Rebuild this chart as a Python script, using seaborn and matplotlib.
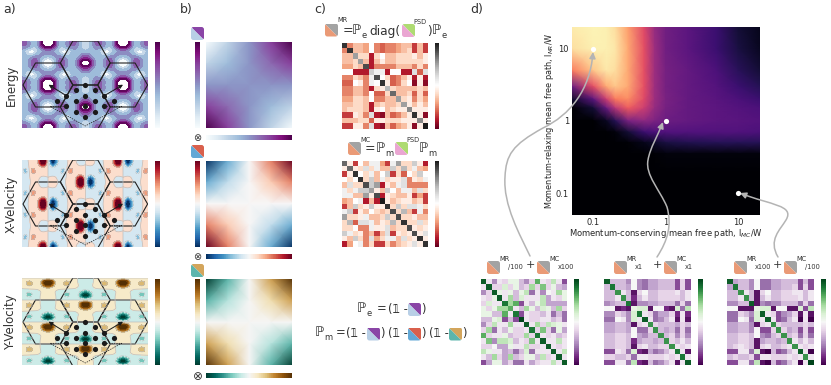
import numpy as np
import matplotlib
matplotlib.use('Agg')
import matplotlib.pyplot as plt
from matplotlib.patches import FancyBboxPatch, Polygon, FancyArrowPatch
from matplotlib.path import Path
import seaborn as sns

W, H = 831, 385

# quarter cells of the three band maps (rows = y, cols = x)
energy_cell = [
    [1.3, 1.2, .95, .5, .3, .32, .5, .6, .8, .6, .45, .3, .1],
    [1.2, 1.15, .9, .5, .3, .33, .5, .6, .7, .55, .42, .28, .1],
    [.95, .9, .7, .42, .3, .35, .5, .55, .55, .5, .4, .3, .2],
    [.5, .45, .35, .3, .15, .08, .05, .15, .4, .42, .33, .3, .3],
    [.55, .55, .5, .42, .25, .1, .08, .3, .4, .33, .33, .45, .5],
    [.3, .35, .45, .5, .55, .45, .35, .42, .45, .33, .45, .6, .7],
    [.08, .1, .3, .5, .7, .6, .5, .4, .33, .45, .55, .9, .95],
    [.02, .05, .2, .5, .8, .65, .5, .32, .3, .5, .85, 1.15, 1.3],
]
xvel_cell = [
    [0, -.98, -.98, -.3, -.1, -.08, -.06, .06, .12, .08, -.5, -.1, 0],
    [0, -.98, -.98, -.28, -.1, -.1, -.05, .1, .15, .1, -.3, -.08, 0],
    [0, -.3, -.3, -.15, -.1, -.2, -.03, .15, .2, .12, .08, .05, 0],
    [0, -.1, -.1, -.1, -.2, -.5, -.05, .5, .25, .15, .1, .08, 0],
    [0, -.08, -.1, -.15, -.25, -.5, .05, .5, .2, .1, .1, .1, 0],
    [0, -.05, -.08, -.12, -.2, -.15, .03, .2, .1, .15, .3, .3, 0],
    [0, .08, .3, -.1, -.15, -.1, .05, .1, .1, .28, .98, .98, 0],
    [0, .1, .5, -.08, -.12, -.06, .06, .08, .1, .3, .98, .98, 0],
]
yvel_cell = [
    [0] * 13,
    [.98, .9, .35, .12, .1, .25, .4, .25, .1, .05, -.05, -.3, -.45],
    [.98, .85, .32, .12, .1, .3, .45, .3, .12, .05, -.02, -.1, -.2],
    [.28, .22, .15, .1, .12, .18, .2, .15, .1, .05, 0, -.05, -.1],
    [.1, .05, 0, -.05, -.1, -.15, -.2, -.18, -.12, -.1, -.15, -.22, -.28],
    [.2, .1, .02, -.05, -.12, -.3, -.45, -.3, -.1, -.12, -.32, -.85, -.98],
    [.45, .3, .05, -.05, -.1, -.25, -.4, -.25, -.1, -.12, -.35, -.9, -.98],
    [0] * 13,
]

# k points and hexagon centres in the maps
dots_x = [63, 53.7, 72.7, 44, 63, 82, 53.7, 72.7, 34.7, 91.3, 44, 63, 82, 53.7, 72.7, 63]
dots_y = [44, 49.3, 49.3, 54.7, 54.7, 54.7, 60, 60, 60, 60, 65.3, 65.3, 65.3, 70.7, 70.7, 76]
hex_x = [25.7, 63, 100.3, 63]
hex_y = [44, 22, 44, 66]

# corners of the 2d colour squares of panel b
square_vals = [[-1, -.5, 0, .5, 1],
               [-.5, -.25, 0, .25, .5],
               [0, 0, 0, 0, 0],
               [.5, .25, 0, -.25, -.5],
               [1, .5, 0, -.5, -1]]

# matrices, upper triangles in tenths
mr_tri = [
    [9, -5, -3, -3, -4, 0, -5, -6, -5, -5, -4, -3, -3, -7, -3, -7],
    [9, -3, -3, -4, 0, -5, -6, -5, -5, -4, -3, -2, -7, -3, -7],
    [5, -2, -2, -8, -2, 0, -3, -3, -2, -2, -2, -1, -3, -1],
    [5, -3, -8, -3, -1, -3, -3, -2, -2, -2, -2, -2, -1],
    [8, -8, -5, -5, -5, -5, -3, -3, -3, -5, -2, -5],
    [3, 1, 1, -8, 0, 0, -8, -8, 2, -6, 2],
    [8, 0, -2, -6, -5, -3, -1, -8, -1, -8],
    [9, -1, -6, -5, -2, 0, -9, -1, -9],
    [4, -2, -3, -3, -3, -3, -2, -3],
    [7, -3, -3, -2, -6, -2, -6],
    [5, -2, -1, -5, -2, -4],
    [5, -1, -3, -1, -3],
    [6, -1, -1, -1],
    [9, -1, -9],
    [6, -1],
    [10],
]
mc_tri = [
    [7, -1, -7, 0, -3, 1, 1, -4, -7, 1, 5, -2, -2, 3, -1, -8],
    [7, -1, -2, 2, -2, 1, -3, -3, 3, -2, 4, -2, 1, -3, -4],
    [9, 0, -2, 1, -3, 0, 3, -7, -2, -6, 0, -2, 3, 0],
    [9, -2, 3, -3, 1, -2, -1, -1, 2, -5, -1, -2, 1],
    [8, 3, 5, -8, -1, -3, 1, 2, -5, -5, -5, -5],
    [5, -1, -3, 3, 0, -3, 1, 1, -3, 2, -2],
    [8, -8, -1, -2, -3, -3, -1, -7, -4, -7],
    [10, -1, -3, -2, -1, -1, -3, -2, -7],
    [9, -2, 3, -2, 2, 2, 1, -2],
    [8, -2, 4, -3, -7, 1, -5],
    [8, -2, -2, -1, -3, -3],
    [9, -2, -2, 2, -2],
    [8, -1, -2, -1],
    [8, -1, 2],
    [9, -1],
    [9],
]
left_tri = [
    [9, -1, -5, -1, -2, 1, 1, -3, -5, -2, 6, -1, -2, 3, -1, -7],
    [9, -2, -2, 2, -2, 1, -3, -2, 4, -2, 5, -2, 1, -3, -4],
    [9, 1, -1, 1, -3, 1, 3, -6, -1, -5, 0, -1, 4, 1],
    [9, -1, 4, -3, 2, -1, -1, -1, 3, -4, -1, -2, 1],
    [8, 4, 6, -7, -1, -3, 1, 3, -4, -4, -4, -4],
    [6, -1, -3, 4, 1, -3, 2, 1, -3, 4, -2],
    [8, -7, -1, -2, -2, -3, -1, -6, -3, -6],
    [10, -1, -2, -2, -1, -1, -3, -2, -6],
    [9, -1, 4, -2, 3, 2, 1, -1],
    [8, -2, 5, -2, -6, 1, -4],
    [8, -1, -2, -1, -3, -2],
    [9, -1, -1, 3, -1],
    [9, -1, -2, -1],
    [9, -1, 3],
    [9, -1],
    [9],
]
mid_tri = [
    [9, -3, -3, -3, -5, 0, -5, -6, -4, -4, -3, -3, -3, -7, -2, -7],
    [8, -3, -3, -4, 0, -5, -6, -4, -4, -3, -3, -3, -7, -2, -7],
    [7, -1, -3, -9, -2, 0, -3, -3, -2, -2, -2, -1, -3, -1],
    [7, -3, -8, -3, -1, -3, -3, -2, -2, -2, -2, -3, -1],
    [8, -9, -5, -5, -4, -4, -3, -3, -3, -6, -2, -6],
    [1, 2, 2, -9, 0, 0, -8, -9, 2, -6, 3],
    [8, -1, -2, -6, -4, -4, -2, -8, -1, -8],
    [9, -1, -6, -5, -3, -1, -9, -1, -9],
    [7, -2, -3, -3, -3, -4, -2, -3],
    [7, -3, -4, -3, -6, -2, -6],
    [7, -3, -2, -5, -2, -5],
    [7, -2, -3, -1, -3],
    [7, -1, -2, -1],
    [8, -1, -9],
    [8, -1],
    [9],
]
right_tri = [
    [9, -4, -3, -3, -5, 0, -6, -6, -4, -4, -3, -3, -3, -7, -3, -7],
    [8, -3, -3, -5, 0, -6, -6, -4, -4, -3, -3, -2, -7, -2, -7],
    [7, -1, -3, -9, -2, 0, -3, -3, -2, -2, -1, -1, -3, -1],
    [7, -3, -9, -3, -1, -3, -3, -2, -2, -2, -1, -3, -1],
    [9, -9, -5, -6, -5, -5, -3, -3, -3, -6, -2, -6],
    [1, 2, 2, -9, 0, 0, -9, -9, 2, -7, 3],
    [9, -1, -2, -7, -5, -4, -2, -9, -1, -9],
    [9, -1, -7, -6, -3, -1, -10, -1, -10],
    [7, -2, -3, -3, -3, -3, -2, -3],
    [7, -2, -4, -3, -7, -2, -7],
    [7, -3, -2, -6, -2, -6],
    [7, -1, -3, -1, -3],
    [7, -1, -2, -1],
    [9, -1, -10],
    [7, -1],
    [10],
]

# free path map: magma level on a log grid
path_x = [.05, .1, .15, .2, .3, .5, .7, 1, 2, 5, 10, 20]
path_y = [20, 10, 5, 3, 2, 1.5, 1, .7, .5, .35, .2, .05]
path_map = [
    [.96, .98, .97, .93, .8, .6, .42, .33, .28, .2, .1, .05],
    [.93, .97, .97, .95, .82, .62, .44, .33, .28, .2, .12, .06],
    [.72, .88, .95, .93, .82, .62, .44, .34, .3, .24, .16, .1],
    [.32, .62, .82, .88, .82, .62, .44, .34, .3, .26, .2, .15],
    [.08, .28, .55, .72, .76, .6, .44, .35, .3, .27, .24, .2],
    [0, .1, .3, .5, .65, .55, .42, .34, .3, .28, .26, .24],
    [0, 0, .06, .15, .35, .4, .36, .32, .3, .28, .27, .26],
    [0, 0, 0, .02, .1, .2, .24, .25, .25, .25, .25, .24],
    [0, 0, 0, 0, .01, .05, .08, .12, .14, .15, .15, .15],
    [0, 0, 0, 0, 0, 0, .01, .02, .02, .02, .02, .02],
    [0] * 12,
    [0] * 12,
]
marker_x = [.1, 1, 10]
marker_y = [10, 1, .1]

sns.set_theme(style='ticks')
plt.rcParams['font.family'] = ['DejaVu Sans']
fig = plt.figure(figsize=(W / 100, H / 100), dpi=100)


def box(x0, y0, x1, y1):
    return fig.add_axes([x0 / W, 1 - y1 / H, (x1 - x0) / W, (y1 - y0) / H])


def unfold(cell, sx, sy, zoom=5, sigma=.65):
    # mirror the quarter cell into one period, smooth it up through the fft, then repeat it
    q = np.array(cell, dtype=float)
    one = np.hstack([sx * q[:, :0:-1], q[:, :-1]])
    per = np.vstack([sy * one[:0:-1], one[:-1]])
    ny, nx = per.shape
    fy = np.fft.fftshift(np.fft.fftfreq(ny))
    fx = np.fft.fftshift(np.fft.fftfreq(nx))
    taper = np.exp(-2 * np.pi ** 2 * sigma ** 2 * (fy[:, None] ** 2 + fx[None, :] ** 2))
    spec = np.fft.fftshift(np.fft.fft2(per)) * taper
    big = np.zeros((ny * zoom, nx * zoom), dtype=complex)
    y0, x0 = (ny * zoom - ny) // 2, (nx * zoom - nx) // 2
    big[y0:y0 + ny, x0:x0 + nx] = spec
    fine = np.real(np.fft.ifft2(np.fft.ifftshift(big))) * zoom * zoom
    return np.tile(fine, (3, 2)), 37.5 / 12 / zoom, 22 / 7 / zoom


def band_map(y0, cell, sx, sy, cmap, levels, vmin, vmax, line_levels, gain, mean):
    ax = box(22.3, y0, 148, y0 + 87)
    f, dx, dy = unfold(cell, sx, sy)
    f = mean + (f - mean) * gain
    xs = 25.7 - 37.5 + np.arange(f.shape[1]) * dx
    ys = 44 - 66 + np.arange(f.shape[0]) * dy
    ax.contourf(xs, ys, f, levels=levels, cmap=cmap, vmin=vmin, vmax=vmax)
    if line_levels:
        ax.contour(xs, ys, f, levels=line_levels, colors='#bdbdbd', linewidths=.5)
    for cx, cy in zip(hex_x, hex_y):
        ax.add_patch(Polygon([(cx - 25, cy), (cx - 12.5, cy - 22), (cx + 12.5, cy - 22),
                              (cx + 25, cy), (cx + 12.5, cy + 22), (cx - 12.5, cy + 22)],
                             fill=False, ec='#222222', lw=.8))
    ax.plot([44, 27.7, 63, 99.4, 82], [65.3, 65.3, 85, 65.3, 65.3], color='k', lw=.5, ls=(0, (2, 1.5)))
    arrow = dict(arrowstyle='-|>', color='k', lw=.7, mutation_scale=6, shrinkA=0, shrinkB=0)
    ax.annotate('', xy=(26.3, 43.7), xytext=(44, 54.7), arrowprops=arrow)
    ax.annotate('', xy=(100.7, 43.7), xytext=(82, 54.7), arrowprops=arrow)
    ax.scatter(dots_x, dots_y, s=14, color='k', zorder=5, lw=0)
    ax.set_xlim(0, 125.7)
    ax.set_ylim(87, 0)
    ax.axis('off')


def ramp(x0, y0, x1, y1, cmap, vmin, vmax, horizontal=False):
    ax = box(x0, y0, x1, y1)
    vals = np.linspace(vmin, vmax, 128)
    vals = vals.reshape(1, -1) if horizontal else vals[::-1].reshape(-1, 1)
    sns.heatmap(vals, ax=ax, cmap=cmap, vmin=vmin, vmax=vmax, cbar=False, xticklabels=False, yticklabels=False, rasterized=True)


def matrix(x0, y0, tri, cmap):
    m = np.zeros((16, 16))
    for i, row in enumerate(tri):
        m[i, i:] = row
        m[i:, i] = row
    ax = box(x0, y0, x0 + 86.5, y0 + 86)
    sns.heatmap(m / 10, ax=ax, cmap=cmap, vmin=-1, vmax=1, cbar=False, xticklabels=False, yticklabels=False)


def square(y0, cmap, vals_scale=1, offset=0):
    ax = box(206.3, y0, 292.3, y0 + 86)
    v = np.array(square_vals) * vals_scale + offset
    ax.pcolormesh(np.linspace(0, 1, 5), np.linspace(1, 0, 5), v, shading='gouraud', cmap=cmap,
                  vmin=offset - vals_scale, vmax=offset + vals_scale)
    ax.set_xlim(0, 1)
    ax.set_ylim(0, 1)
    ax.axis('off')


# panel a
e_levels = [-.5, .15, .3, .45, .6, .75, .9, 1.0]
v_levels = [-1.8, -.95, -.8, -.65, -.5, -.35, 0, .35, .5, .65, .8, .95, 1.8]
band_map(41, energy_cell, 1, 1, 'BuPu', e_levels, 0, 1, None, 1.1, .45)
band_map(160, xvel_cell, -1, 1, 'RdBu_r', v_levels, -1, 1, [-.35, 0, .35], 1.3, 0)
band_map(278, yvel_cell, 1, -1, 'BrBG_r', v_levels, -1, 1, [-.35, 0, .35], 1.3, 0)
ramp(155, 42, 160, 128, 'BuPu', 0, 1)
ramp(155, 160.5, 160, 247, 'RdBu_r', -1, 1)
ramp(155, 279, 160, 365, 'BrBG_r', -1, 1)

# panel b
for y0, cmap, scale, off, by in [(42.3, 'BuPu', .5, .5, 135), (160.7, 'RdBu_r', 1, 0, 254), (279.3, 'BrBG_r', 1, 0, 373.3)]:
    square(y0, cmap, scale, off)
    ramp(195, y0, 200, y0 + 86, cmap, off - scale, off + scale)
    ramp(206.3, by, 292.3, by + 5, cmap, off - scale, off + scale, horizontal=True)

# panel c and the lower matrices of d
matrix(341.7, 42.5, mr_tri, 'RdGy')
matrix(341.7, 160.7, mc_tri, 'RdGy')
ramp(435, 42.5, 439.3, 128.5, 'RdGy', -1, 1)
ramp(435, 160.7, 439.3, 246.7, 'RdGy', -1, 1)
matrix(480.7, 279, left_tri, 'PRGn')
matrix(604.3, 279, mid_tri, 'PRGn')
matrix(727.3, 279, right_tri, 'PRGn')
ramp(574.3, 279, 579, 365, 'PRGn', -1, 1)
ramp(698, 279, 702.7, 365, 'PRGn', -1, 1)
ramp(821, 279, 825.7, 365, 'PRGn', -1, 1)

# panel d
ax = box(571.7, 27, 760, 215)
ax.pcolormesh(path_x, path_y, np.array(path_map), shading='gouraud', cmap='magma', vmin=0, vmax=1)
ax.set_xscale('log')
ax.set_yscale('log')
ax.set_xlim(.05, 20)
ax.set_ylim(.05, 20)
ax.set_xticks([.1, 1, 10], ['0.1', '1', '10'], fontsize=6)
ax.set_yticks([.1, 1, 10], ['0.1', '1', '10'], fontsize=6)
ax.tick_params(which='major', direction='in', color='white', length=2.5, width=.5, top=True, right=True, bottom=True, left=True, pad=2)
ax.tick_params(which='minor', direction='in', color='white', length=1.3, width=.4, top=True, right=True, bottom=True, left=True)
for s in ax.spines.values():
    s.set_visible(False)
ax.scatter(marker_x, marker_y, s=14, color='white', zorder=4, lw=0, clip_on=False)
ax.set_xlabel('Momentum-conserving mean free path, l$_{MC}$/W', fontsize=6, labelpad=0)
ax.set_ylabel('Momentum-relaxing mean free path, l$_{MR}$/W', fontsize=5.9, labelpad=0)

# overlay in picture pixels for labels, icons and curved arrows
ov = fig.add_axes([0, 0, 1, 1], zorder=10)
ov.set_xlim(0, W)
ov.set_ylim(H, 0)
ov.axis('off')
ov.patch.set_alpha(0)


def txt(x, y, s, fs=8.4, **kw):
    kw.setdefault('va', 'center')
    kw.setdefault('ha', 'left')
    ov.text(x, y, s, fontsize=fs, color='#333333', **kw)


def icon(x, y, low, high, size=13):
    b = FancyBboxPatch((x + 1, y + 1), size - 2, size - 2, boxstyle='round,pad=1,rounding_size=2.5', fc='none', ec='none')
    ov.add_patch(b)
    t1 = Polygon([(x, y), (x + size, y), (x + size, y + size)], fc=high, ec='none')
    t2 = Polygon([(x, y), (x, y + size), (x + size, y + size)], fc=low, ec='none')
    for t in (t1, t2):
        ov.add_patch(t)
        t.set_clip_path(b)


def curve(verts):
    codes = [Path.MOVETO] + [Path.CURVE4] * (len(verts) - 1)
    ov.add_patch(FancyArrowPatch(path=Path(verts, codes), arrowstyle='-|>', mutation_scale=9,
                                 color='#b4b4b4', lw=1.1, shrinkA=0, shrinkB=0))


E_COL = ('#b8cfe6', '#8a45a6')
X_COL = ('#62a8d6', '#d9604c')
Y_COL = ('#5cb5ac', '#d3a55c')
M_COL = ('#ea9a76', '#a3a3a3')
P_COL = ('#eaa6d2', '#aedb72')

for x, s in [(3, 'a)'), (180, 'b)'), (314, 'c)'), (470, 'd)')]:
    txt(x, 10, s, fs=9)
for y, s in [(85, 'Energy'), (204, 'X-Velocity'), (322, 'Y-Velocity')]:
    txt(11, y, s, fs=8.5, rotation=90, ha='center')
for y, fs in [(138, 7), (256.5, 7), (376, 8.5)]:
    txt(197.5, y, '\u2297', fs=fs, ha='center')
icon(191, 27, *E_COL)
icon(191, 145, *X_COL)
icon(191, 264, *Y_COL)

# equations of panel c
icon(325, 23.5, *M_COL)
txt(337, 20.5, 'MR', fs=4.8)
txt(342.5, 31, '=', fs=9)
txt(352, 31, '\u2119', fs=9.5)
txt(361.5, 35, 'e', fs=6)
txt(369, 31, 'diag(', fs=8.8)
icon(402, 24, *P_COL)
txt(413, 22, 'PSD', fs=4.8)
txt(427, 31, ')', fs=8.8)
txt(432, 31, '\u2119', fs=9.5)
txt(441.5, 35, 'e', fs=6)
icon(348, 142, *M_COL)
txt(360, 140, 'MC', fs=4.8)
txt(365, 149, '=', fs=9)
txt(376, 149, '\u2119', fs=9.5)
txt(385.5, 153, 'm', fs=6)
icon(395, 142, *P_COL)
txt(406, 140, 'PSD', fs=4.8)
txt(419, 149, '\u2119', fs=9.5)
txt(428.5, 153, 'm', fs=6)

one = '(\U0001D7D9 -'
txt(357, 309, '\u2119', fs=9.5)
txt(366.5, 313, 'e', fs=6)
txt(377, 309, '=', fs=8.4)
txt(388, 309, one)
icon(408, 303, *E_COL)
txt(421.5, 309, ')')
txt(315, 333, '\u2119', fs=9.5)
txt(324.5, 337, 'm', fs=6)
txt(336, 333, '=', fs=8.4)
txt(346, 333, one)
icon(367, 327.5, *E_COL)
txt(380.5, 333, ')')
txt(388, 333, one)
icon(408, 327.5, *X_COL)
txt(421.5, 333, ')')
txt(429, 333, one)
icon(449, 327.5, *Y_COL)
txt(462.5, 333, ')')

# headers of the lower matrices
for x, a, b in [(487, '/100', 'x100'), (614, 'x1', 'x1'), (734, 'x100', '/100')]:
    gap = 50
    icon(x, 261, *M_COL)
    txt(x + 12, 259, 'MR', fs=4.8)
    txt(x + 21, 267, a, fs=4.8)
    txt(x + 43, 265, '+', fs=8, ha='center')
    icon(x + gap, 261, *M_COL)
    txt(x + gap + 12, 259, 'MC', fs=4.8)
    txt(x + gap + 21, 267, b, fs=4.8)

curve([(530, 256), (520, 235), (503, 205), (505, 177), (506, 155), (512, 145), (543, 128), (570, 115), (590, 90), (593, 52)])
curve([(657, 257), (668, 240), (672, 225), (667, 207), (660, 190), (645, 175), (648, 160), (650, 148), (658, 135), (663, 122)])
curve([(778, 257), (768, 240), (780, 230), (786, 220), (795, 205), (770, 205), (740, 193)])

fig.savefig('out.png', dpi=100)
